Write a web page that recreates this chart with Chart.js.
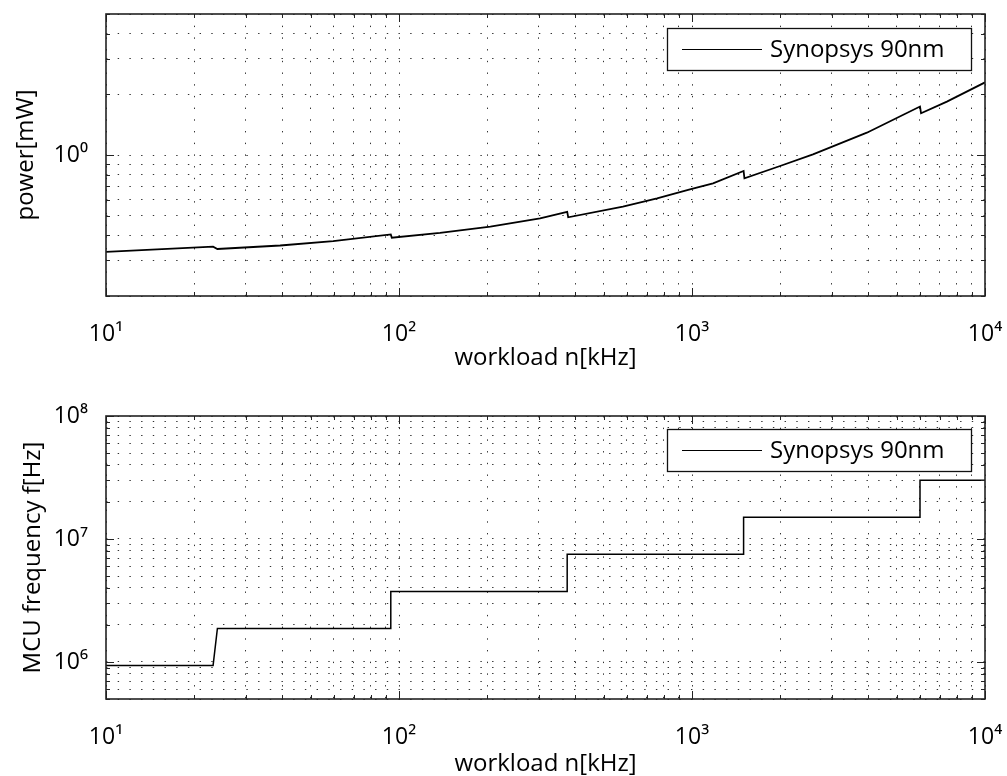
<!DOCTYPE html>
<html>
<head>
<meta charset="utf-8">
<script src="https://cdn.jsdelivr.net/npm/chart.js@4.4.1/dist/chart.umd.min.js"></script>
<style>
  html, body { margin: 0; padding: 0; background: #fff; width: 1007px; height: 776px; overflow: hidden; }
  .wrap { position: absolute; left: 0; }
</style>
</head>
<body>
<div class="wrap" style="top:0px"><canvas id="c1" width="1007" height="380"></canvas></div>
<div class="wrap" style="top:380px"><canvas id="c2" width="1007" height="410"></canvas></div>
<script>
// ---------------- data ----------------
const seriesLabel = 'Synopsys 90nm';

// top panel: power [mW] vs workload n [kHz]
const workloadPower = [10, 23.2, 24.0, 39.3, 59.6, 93.75, 94.5, 138, 205, 303, 375, 378, 581, 760, 984, 1180, 1500, 1510, 1998, 2588, 3952, 6000, 6050, 7413, 10000];
const powerMW       = [0.331, 0.351, 0.342, 0.356, 0.374, 0.404, 0.389, 0.411, 0.441, 0.485, 0.523, 0.491, 0.554, 0.61, 0.676, 0.724, 0.833, 0.766, 0.882, 1.008, 1.29, 1.74, 1.61, 1.84, 2.29];

// bottom panel: MCU frequency f [Hz] vs workload n [kHz]
const workloadFreq  = [10, 23.2, 24.0, 93.75, 93.75, 375, 375, 1500, 1500, 6000, 6000, 10000];
const freqHz        = [0.9375e6, 0.9375e6, 1.875e6, 1.875e6, 3.75e6, 3.75e6, 7.5e6, 7.5e6, 15e6, 15e6, 30e6, 30e6];

// tick values
const xTickValues     = [10, 20, 30, 40, 50, 60, 70, 80, 90, 100, 200, 300, 400, 500, 600, 700, 800, 900, 1000, 2000, 3000, 4000, 5000, 6000, 7000, 8000, 9000, 10000];
const powerTickValues = [0.2, 0.3, 0.4, 0.5, 0.6, 0.7, 0.8, 0.9, 1, 2, 3, 4, 5];
const freqTickValues  = [5e5, 6e5, 7e5, 8e5, 9e5, 1e6, 2e6, 3e6, 4e6, 5e6, 6e6, 7e6, 8e6, 9e6, 1e7, 2e7, 3e7, 4e7, 5e7, 6e7, 7e7, 8e7, 9e7, 1e8];
const xLabelledTicks     = [10, 100, 1000, 10000];
const powerLabelledTicks = [1];
const freqLabelledTicks  = [1e6, 1e7, 1e8];

// ---------------- helpers ----------------
const SUP = {'-':'\u207B','0':'\u2070','1':'\u00B9','2':'\u00B2','3':'\u00B3','4':'\u2074','5':'\u2075','6':'\u2076','7':'\u2077','8':'\u2078','9':'\u2079'};
function powLabel(v) {
  const e = Math.round(Math.log10(v));
  return '10' + String(e).split('').map(c => SUP[c]).join('');
}
function isIn(list, v) { return list.some(t => Math.abs(t - v) / t < 1e-6); }
const FONT = "'Open Sans', 'DejaVu Sans', sans-serif";

const matlabFrame = {
  id: 'matlabFrame',
  afterDatasetsDraw(chart, args, opts) {
    const { ctx, chartArea: a, scales } = chart;
    ctx.save();
    ctx.strokeStyle = '#222';
    ctx.lineWidth = 1;
    ctx.beginPath();
    scales.x.ticks.forEach(t => {
      const px = Math.round(scales.x.getPixelForValue(t.value)) + 0.5;
      const len = isIn(opts.xMajor, t.value) ? 8 : 4;
      ctx.moveTo(px, a.bottom); ctx.lineTo(px, a.bottom - len);
      ctx.moveTo(px, a.top); ctx.lineTo(px, a.top + len);
    });
    scales.y.ticks.forEach(t => {
      const py = Math.round(scales.y.getPixelForValue(t.value)) + 0.5;
      const len = isIn(opts.yMajor, t.value) ? 8 : 4;
      ctx.moveTo(a.left, py); ctx.lineTo(a.left + len, py);
      ctx.moveTo(a.right, py); ctx.lineTo(a.right - len, py);
    });
    ctx.stroke();
    ctx.lineWidth = 1.6;
    ctx.strokeRect(a.left, a.top, a.right - a.left, a.bottom - a.top);
    ctx.restore();
  },
  afterDraw(chart, args, opts) {
    const { ctx, chartArea: a } = chart;
    const ds = chart.data.datasets[0];
    const w = 304, h = 42;
    const bx = a.right - opts.legendRight - w;
    const by = a.top + opts.legendTop;
    ctx.save();
    ctx.fillStyle = '#fff';
    ctx.fillRect(bx, by, w, h);
    ctx.strokeStyle = '#111';
    ctx.lineWidth = 1.3;
    ctx.strokeRect(bx + 0.5, by + 0.5, w, h);
    ctx.beginPath();
    ctx.lineWidth = 1.2;
    ctx.strokeStyle = '#000';
    ctx.moveTo(bx + 15, by + h / 2 + 0.5);
    ctx.lineTo(bx + 95, by + h / 2 + 0.5);
    ctx.stroke();
    ctx.fillStyle = '#000';
    ctx.font = "24px " + FONT;
    ctx.textBaseline = 'middle';
    ctx.textAlign = 'left';
    ctx.fillText(ds.label, bx + 103, by + h / 2 + 1);
    ctx.restore();
  }
};

function makeChart(canvasId, cfg) {
  const toPts = (xs, ys) => xs.map((x, i) => ({ x: x, y: ys[i] }));
  return new Chart(document.getElementById(canvasId), {
    type: 'scatter',
    data: {
      datasets: [{
        label: seriesLabel,
        data: toPts(cfg.xs, cfg.ys),
        showLine: true,
        borderColor: '#000',
        backgroundColor: '#000',
        borderWidth: cfg.lineWidth,
        pointRadius: 0,
        pointHoverRadius: 0,
        tension: 0
      }]
    },
    options: {
      responsive: false,
      animation: false,
      events: [],
      layout: { padding: { left: 0, right: 22, top: cfg.padTop, bottom: 0 } },
      plugins: {
        legend: { display: false },
        tooltip: { enabled: false },
        matlabFrame: { xMajor: xLabelledTicks, yMajor: cfg.yMajor, legendRight: 14, legendTop: cfg.legendTop }
      },
      scales: {
        x: {
          type: 'logarithmic',
          min: 10, max: 10000,
          afterBuildTicks: s => { s.ticks = xTickValues.map(v => ({ value: v })); },
          afterFit: s => { s.height = cfg.xAxisHeight; s.paddingLeft = 0; s.paddingRight = 0; },
          grid: { color: '#333', lineWidth: 1, drawTicks: false },
          border: { display: false, dash: [1.4, 10.3] },
          ticks: {
            autoSkip: false, maxRotation: 0, minRotation: 0,
            padding: 25, color: '#000',
            font: { family: FONT, size: 23 },
            callback: v => isIn(xLabelledTicks, v) ? powLabel(v) : ''
          },
          title: {
            display: true, text: 'workload n[kHz]', color: '#000',
            font: { family: FONT, size: 24 },
            padding: { top: 0, bottom: cfg.xTitlePad }
          }
        },
        y: {
          type: 'logarithmic',
          min: cfg.yMin, max: cfg.yMax,
          afterBuildTicks: s => { s.ticks = cfg.yTicks.map(v => ({ value: v })); },
          afterFit: s => { s.width = 106; s.paddingTop = 0; s.paddingBottom = 0; },
          grid: { color: '#333', lineWidth: 1, drawTicks: false },
          border: { display: false, dash: [1.4, 10.3] },
          ticks: {
            autoSkip: false, padding: 18, color: '#000',
            font: { family: FONT, size: 23 },
            callback: v => isIn(cfg.yMajor, v) ? powLabel(v) : ''
          },
          title: {
            display: true, text: cfg.yTitle, color: '#000',
            font: { family: FONT, size: 24 },
            padding: { top: cfg.yTitlePad, bottom: 0 }
          }
        }
      }
    },
    plugins: [matlabFrame]
  });
}

makeChart('c1', {
  xs: workloadPower, ys: powerMW, lineWidth: 1.8,
  yMin: 0.2, yMax: 5, yTicks: powerTickValues, yMajor: powerLabelledTicks,
  yTitle: 'power[mW]', padTop: 14, xAxisHeight: 84, xTitlePad: 7, yTitlePad: 12, legendTop: 14
});
makeChart('c2', {
  xs: workloadFreq, ys: freqHz, lineWidth: 1.5,
  yMin: 5e5, yMax: 1e8, yTicks: freqTickValues, yMajor: freqLabelledTicks,
  yTitle: 'MCU frequency f[Hz]', padTop: 36, xAxisHeight: 91, xTitlePad: 11, yTitlePad: 19, legendTop: 13
});
</script>
</body>
</html>
